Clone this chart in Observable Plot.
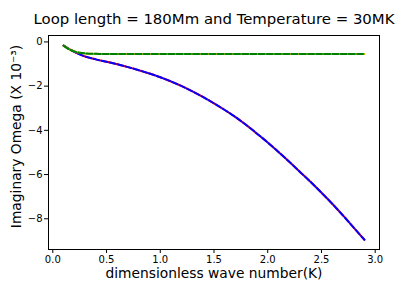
<!DOCTYPE html>
<html>
<head>
<meta charset="utf-8">
<script src="https://cdn.jsdelivr.net/npm/d3@7"></script>
<script src="https://cdn.jsdelivr.net/npm/@observablehq/plot@0.6"></script>
<style>
  html, body { margin: 0; padding: 0; background: #fff; }
  #chart { width: 409px; height: 291px; }
</style>
</head>
<body>
<div id="chart"></div>
<script>
const titleText = "Loop length = 180Mm and Temperature = 30MK";
const xLabel = "dimensionless wave number(K)";
const yLabel = "Imaginary Omega (X 10\u207B\u00B3)";

const xTicks = [0, 0.5, 1.0, 1.5, 2.0, 2.5, 3.0];
const yTicks = [0, -2, -4, -6, -8];

// lower branch (red solid + blue dashed)
const kLower = [0.1, 0.2, 0.3, 0.4, 0.5, 0.6, 0.7, 0.8, 0.9, 1.0, 1.1, 1.2, 1.3, 1.4, 1.5, 1.6, 1.7, 1.8, 1.9, 2.0, 2.1, 2.2, 2.3, 2.4, 2.5, 2.6, 2.7, 2.8, 2.9];
const omegaLower = [-0.17, -0.45, -0.66, -0.79, -0.90, -1.01, -1.14, -1.28, -1.43, -1.60, -1.79, -2.00, -2.24, -2.50, -2.78, -3.08, -3.40, -3.76, -4.15, -4.55, -4.98, -5.42, -5.88, -6.34, -6.82, -7.32, -7.85, -8.40, -8.95];

// upper branch (yellow solid + green dashed)
const kUpper = [0.1, 0.15, 0.2, 0.25, 0.3, 0.4, 0.5, 0.7, 1.0, 1.5, 2.0, 2.5, 2.9];
const omegaUpper = [-0.17, -0.33, -0.43, -0.49, -0.52, -0.54, -0.55, -0.55, -0.55, -0.55, -0.55, -0.55, -0.55];

const lower = kLower.map((k, i) => ({k, w: omegaLower[i]}));
const upper = kUpper.map((k, i) => ({k, w: omegaUpper[i]}));

const font = "DejaVu Sans, sans-serif";
const yFmt = d => d === 0 ? "0" : "\u2212" + Math.abs(d);

const chart = Plot.plot({
  width: 409,
  height: 291,
  marginLeft: 48,
  marginRight: 30,
  marginTop: 35,
  marginBottom: 42,
  style: {fontFamily: font, fontSize: "10px", color: "#000", background: "#fff"},
  x: {domain: [-0.04, 3.04], ticks: xTicks, tickFormat: d3.format(".1f"), label: null},
  y: {domain: [-9.39, 0.29], ticks: yTicks, tickFormat: yFmt, label: null},
  marks: [
    Plot.axisX({ticks: xTicks, tickFormat: d3.format(".1f"), tickSize: 4, tickPadding: 2, label: null, fontSize: 10}),
    Plot.axisY({ticks: yTicks, tickFormat: yFmt, tickSize: 4, tickPadding: 2, label: null, fontSize: 10}),
    Plot.line(lower, {x: "k", y: "w", stroke: "#ff0000", strokeWidth: 2, curve: "catmull-rom"}),
    Plot.line(lower, {x: "k", y: "w", stroke: "#0000ff", strokeWidth: 2, strokeDasharray: "6,2.2", curve: "catmull-rom"}),
    Plot.line(upper, {x: "k", y: "w", stroke: "#bfbf00", strokeWidth: 2, curve: "catmull-rom"}),
    Plot.line(upper, {x: "k", y: "w", stroke: "#008000", strokeWidth: 2, strokeDasharray: "6,2.2", curve: "catmull-rom"}),
    Plot.frame({stroke: "#000", strokeWidth: 1}),
    Plot.text([titleText], {frameAnchor: "top", dy: -22, fontSize: 14.9, fill: "#000", text: d => d}),
    Plot.text([xLabel], {frameAnchor: "bottom", dy: 28, fontSize: 13.8, fill: "#000", text: d => d}),
    Plot.text([yLabel], {frameAnchor: "left", dx: -32, dy: -6, rotate: -90, textAnchor: "middle", fontSize: 13.8, fill: "#000", text: d => d})
  ]
});
document.getElementById("chart").appendChild(chart);
</script>
</body>
</html>
